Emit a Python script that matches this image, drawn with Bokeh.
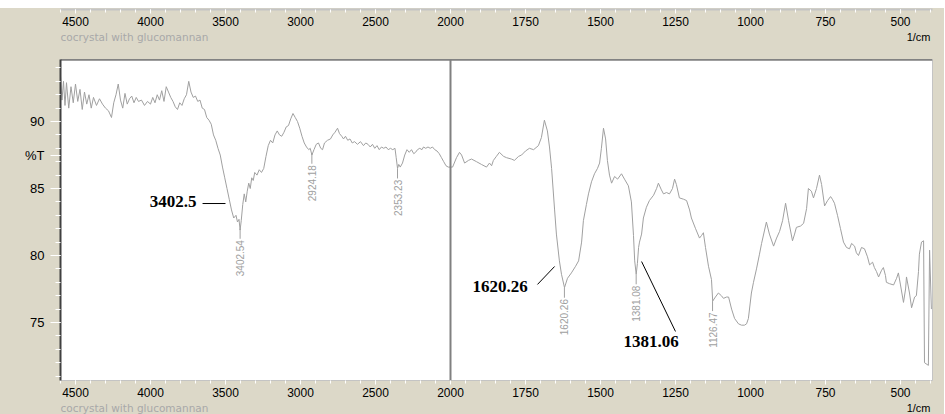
import math
from bokeh.plotting import figure
from bokeh.models import (Range1d, SingleIntervalTicker, FixedTicker, CustomJSTickFormatter,
                          PrintfTickFormatter, CustomJSTransform, ColumnDataSource, Span,
                          Label, Spacer)
from bokeh.transform import transform
from bokeh.layouts import column
from bokeh.embed import file_html
from bokeh.resources import INLINE
from bokeh.core.properties import value

# ---------------- data ----------------
WAVENUMBER = [
    4600, 4590, 4580, 4570, 4560, 4545, 4530, 4515, 4500, 4485, 4470, 4455, 4440, 4425,
    4410, 4395, 4380, 4360, 4340, 4320, 4300, 4280, 4260, 4245, 4230, 4215, 4200, 4185,
    4170, 4155, 4140, 4125, 4110, 4095, 4080, 4060, 4040, 4020, 4000, 3985, 3970, 3955,
    3940, 3925, 3910, 3895, 3880, 3865, 3850, 3835, 3820, 3805, 3790, 3775, 3760, 3745,
    3730, 3715, 3700, 3685, 3670, 3655, 3640, 3625, 3610, 3595, 3580, 3565, 3550, 3535,
    3520, 3505, 3490, 3475, 3460, 3445, 3430, 3420, 3410, 3402.5, 3395, 3385, 3375, 3365,
    3355, 3345, 3335, 3325, 3315, 3305, 3290, 3275, 3260, 3245, 3230, 3215, 3200, 3185,
    3170, 3155, 3140, 3125, 3110, 3095, 3080, 3065, 3050, 3035, 3020, 3005, 2990, 2975,
    2960, 2945, 2935, 2924, 2910, 2895, 2880, 2865, 2853, 2840, 2820, 2800, 2785, 2770,
    2753, 2740, 2725, 2713, 2700, 2685, 2670, 2655, 2640, 2620, 2600, 2580, 2565, 2550,
    2535, 2520, 2505, 2490, 2475, 2460, 2445, 2430, 2415, 2400, 2385, 2370, 2362, 2353,
    2345, 2335, 2320, 2305, 2290, 2275, 2260, 2245, 2233, 2220, 2205, 2190, 2180, 2165,
    2150, 2135, 2120, 2105, 2090, 2075, 2060, 2045, 2030, 2015, 2000,
    1993, 1980, 1970, 1963, 1953, 1940, 1930, 1913, 1897, 1880, 1870, 1863, 1857, 1847,
    1837, 1823, 1813, 1797, 1787, 1773, 1763, 1750, 1737, 1723, 1707, 1697, 1687, 1677,
    1670, 1663, 1653, 1647, 1637, 1630, 1620, 1610, 1597, 1583, 1573, 1563, 1557, 1547,
    1540, 1530, 1520, 1510, 1503, 1497, 1490, 1483, 1477, 1470, 1463, 1453, 1443, 1430,
    1420, 1407, 1397, 1390, 1386, 1381, 1377, 1373, 1370, 1363, 1357, 1347, 1337, 1323,
    1313, 1307, 1297, 1290, 1280, 1270, 1260, 1253, 1247, 1237, 1223, 1213, 1203, 1197,
    1183, 1170, 1163, 1157, 1150, 1140, 1130, 1126, 1117, 1107, 1097, 1090, 1080, 1073,
    1063, 1053, 1040, 1030, 1020, 1013, 1007, 997, 990, 980, 970, 963, 953, 947,
    937, 923, 913, 903, 893, 883, 873, 860, 853, 847, 833, 823, 813, 807,
    797, 790, 780, 770, 763, 753, 743, 733, 727, 720, 710, 700, 690, 680,
    670, 663, 653, 647, 640, 630, 620, 610, 603, 593, 587, 580, 573, 563,
    557, 550, 547, 537, 523, 513, 507, 500, 490, 483, 480, 470, 463, 453,
    447, 440, 437, 430, 423, 420, 407, 403, 397,
]
TRANSMITTANCE = [
    93.4, 91.6, 93.0, 91.2, 92.9, 91.0, 92.6, 91.4, 92.8, 91.5, 92.4, 90.9, 92.2, 91.3,
    92.0, 91.0, 91.8, 91.2, 91.7, 91.3, 91.0, 90.8, 90.3, 91.4, 92.0, 92.8, 91.6, 91.0,
    92.1, 91.3, 91.7, 91.9, 91.4, 91.8, 91.5, 91.6, 91.2, 91.5, 91.3, 91.8, 91.4, 92.0,
    91.6, 92.3, 91.5, 92.6, 92.2, 91.8, 91.5, 91.1, 90.9, 91.4, 91.2, 91.7, 92.0, 93.0,
    92.2, 91.8, 91.9, 91.5, 91.6, 91.0, 90.9, 90.3, 90.1, 89.8, 89.0, 88.6, 88.0, 87.5,
    86.6, 85.8, 85.0, 84.2, 83.4, 82.8, 83.0, 82.5, 82.7, 81.9, 82.6, 83.8, 84.6, 84.0,
    84.8, 85.4, 85.0, 85.8, 85.6, 86.2, 86.0, 86.4, 86.2, 86.5, 87.4, 88.2, 88.6, 88.4,
    89.0, 89.3, 89.0, 88.9, 89.2, 89.6, 89.7, 90.2, 90.6, 90.3, 90.0, 89.5, 88.9, 88.4,
    88.1, 87.9, 88.0, 87.5, 87.9, 88.3, 88.4, 88.0, 87.9, 88.4, 88.6, 88.7, 89.0, 89.2,
    89.5, 89.1, 88.9, 88.7, 88.9, 88.6, 88.7, 88.4, 88.5, 88.3, 88.5, 88.2, 88.4, 88.3,
    88.1, 88.3, 88.0, 88.2, 87.9, 88.1, 88.0, 88.1, 87.9, 88.0, 87.9, 88.0, 87.3, 86.5,
    86.8, 86.6, 86.9, 87.5, 87.9, 87.7, 87.9, 87.6, 87.7, 87.9, 88.0, 87.9, 88.1, 88.0,
    88.1, 88.0, 88.1, 87.9, 87.8, 87.6, 87.3, 87.0, 86.7, 86.6, 86.6,
    86.6, 87.3, 87.7, 87.5, 86.9, 87.1, 87.2, 87.0, 86.8, 86.6, 86.9, 86.7, 87.1, 87.4,
    87.7, 87.4, 87.3, 87.2, 87.1, 87.4, 87.5, 87.8, 88.0, 87.9, 88.2, 88.8, 90.1, 89.3,
    88.1, 86.5, 83.4, 81.6, 79.6, 78.6, 77.6, 78.3, 78.7, 79.2, 79.6, 81.0, 82.6, 83.8,
    84.6, 85.5, 86.1, 86.5, 86.9, 88.0, 89.5, 88.7, 87.1, 86.0, 85.4, 85.9, 85.7, 86.1,
    85.7, 85.2, 84.0, 81.5, 79.6, 78.6, 79.4, 80.6, 81.0, 81.6, 82.8, 83.6, 84.1, 84.5,
    85.0, 85.4, 84.9, 84.6, 84.7, 84.6, 85.0, 85.7, 85.3, 84.3, 84.2, 84.1, 83.4, 82.8,
    82.0, 81.3, 81.5, 81.7, 80.6, 79.2, 78.2, 76.6, 76.9, 77.2, 77.0, 76.8, 76.9, 76.9,
    76.0, 75.3, 74.9, 74.8, 74.8, 74.9, 75.3, 77.2, 78.0, 79.0, 80.1, 80.9, 81.9, 82.5,
    81.6, 80.7, 81.3, 81.8, 82.6, 83.9, 82.6, 81.1, 81.6, 82.1, 82.2, 82.4, 83.5, 85.0,
    84.8, 84.3, 85.0, 86.0, 85.3, 83.7, 84.1, 84.4, 84.2, 83.9, 83.0, 82.0, 81.0, 80.6,
    80.5, 80.9, 80.7, 80.2, 80.0, 80.6, 80.5, 79.9, 79.3, 79.5, 79.1, 78.8, 78.4, 78.9,
    79.1, 78.5, 78.0, 77.9, 77.8, 78.3, 78.7, 77.8, 76.5, 77.5, 78.4, 77.2, 76.1, 76.9,
    77.0, 78.8, 80.1, 81.0, 81.1, 72.0, 71.8, 80.4, 76.0,
]

# peak picks printed by the instrument software
PEAK_WN = [3402.54, 2924.18, 2353.23, 1620.26, 1381.08, 1126.47]
PEAK_T = [82.0, 87.6, 86.5, 77.6, 78.6, 76.6]
PEAK_LABELS = ["3402.54", "2924.18", "2353.23", "1620.26", "1381.08", "1126.47"]

# hand-written call-outs
CALLOUT_TEXT = ["3402.5", "1620.26", "1381.06"]

X_TICK_STEP = 500               # 500 per label left of 2000, 250 per label right of it
Y_TICKS = [75, 80, 85, 90]
Y_LABEL = "%T"
Y_LABEL_AT = 87.5
SUBTITLE = "cocrystal with glucomannan"
UNIT = "1/cm"

# ---------------- layout / style ----------------
BEIGE = "#dcd8c8"
CURVE = "#a0a0a0"
FONT = "Liberation Sans"
W = 944
BL, BR = 60, 12                 # left / right borders -> frame 60..932
SPLIT = 2000                    # the x-scale doubles its resolution below 2000 1/cm
X_START, X_END_WN = 4600, 393.3
Y_START, Y_END = 70.67, 94.63


def warp(w):
    return w if w >= SPLIT else 2 * w - SPLIT


warp_t = CustomJSTransform(
    args=dict(s=SPLIT),
    func="return x >= s ? x : 2 * x - s;",
    v_func="const out = new Float64Array(xs.length); for (let i = 0; i < xs.length; i++) { const x = xs[i]; out[i] = x >= s ? x : 2 * x - s; } return out;",
)
fmt = CustomJSTickFormatter(args=dict(s=SPLIT),
                            code="const w = tick >= s ? tick : (tick + s) / 2; return w.toFixed(0);")

XR_END = warp(X_END_WN)
xr = Range1d(X_START, XR_END)


def base_fig(height, y_range, **kw):
    f = figure(width=W, height=height, x_range=xr, y_range=y_range,
               output_backend="svg", toolbar_location=None,
               min_border_left=BL, min_border_right=BR, **kw)
    f.grid.visible = False
    f.outline_line_color = None
    f.background_fill_color = BEIGE
    f.border_fill_color = BEIGE
    return f


def style_xaxis(ax, line_w, standoff):
    ax.ticker = SingleIntervalTicker(interval=X_TICK_STEP, num_minor_ticks=5)
    ax.formatter = fmt
    ax.axis_line_color = "#c4c4c4"
    ax.axis_line_width = line_w
    ax.major_tick_line_color = "white"
    ax.minor_tick_line_color = "white"
    ax.major_tick_out = 4
    ax.major_tick_in = 0
    ax.minor_tick_out = 3
    ax.minor_tick_in = 0
    ax.major_label_text_font = FONT
    ax.major_label_text_font_size = "12px"
    ax.major_label_text_color = "black"
    ax.major_label_standoff = standoff


def text_row(height, top_px, mid):
    # y range equals page pixels (flipped) so that rows are easy to line up
    f = base_fig(height, Range1d(top_px + height, top_px), min_border_top=0,
                 min_border_bottom=0, x_axis_location=None, y_axis_location=None)
    f.add_layout(Label(x=X_START, y=mid, text=SUBTITLE, text_align="left",
                       text_baseline="middle", text_font="DejaVu Sans",
                       text_font_size="10.5px", text_color="#a8a8a8"))
    f.add_layout(Label(x=XR_END, y=mid, x_offset=-2, text=UNIT, text_align="right",
                       text_baseline="middle", text_font=FONT, text_font_size="11px",
                       text_color="black"))
    return f


# ---------- upper wavenumber scale (rows 8..30) and its caption row (30..43) ----------
top_axis = base_fig(22, Range1d(0, 1), min_border_top=0, min_border_bottom=21,
                    y_axis_location=None, x_axis_location="below")
style_xaxis(top_axis.xaxis[0], 2, 3)
top_text = text_row(13, 30, 36.0)

# ---------- main plot (rows 43..401, frame 59..380) ----------
p = figure(width=W, height=358, x_range=xr, y_range=Range1d(Y_START, Y_END),
           output_backend="svg", toolbar_location=None,
           min_border_left=BL, min_border_right=BR, min_border_top=16, min_border_bottom=21)
p.grid.visible = False
p.background_fill_color = "white"
p.border_fill_color = BEIGE
p.outline_line_color = "#c4c4c4"
p.outline_line_width = 1
style_xaxis(p.xaxis[0], 1, 3)

ya = p.yaxis[0]
ya.ticker = FixedTicker(ticks=Y_TICKS + [Y_LABEL_AT],
                        minor_ticks=list(range(71, 95)))
ya.formatter = PrintfTickFormatter(format="%d")
ya.major_label_overrides = {Y_LABEL_AT: Y_LABEL}
ya.axis_line_color = "#404040"
ya.axis_line_width = 2
ya.major_tick_line_color = "white"
ya.minor_tick_line_color = "white"
ya.major_tick_out = 10
ya.major_tick_in = 0
ya.minor_tick_out = 5
ya.minor_tick_in = 0
ya.major_label_text_font = FONT
ya.major_label_text_font_size = "13px"
ya.major_label_text_color = "black"
ya.major_label_standoff = 6

p.add_layout(Span(location=Y_END, dimension="width", line_color="#404040", line_width=2))
p.add_layout(Span(location=SPLIT, dimension="height", line_color="#808080", line_width=2))

src = ColumnDataSource(dict(wn=WAVENUMBER, t=TRANSMITTANCE))
p.line(x=transform("wn", warp_t), y="t", source=src, line_color=CURVE, line_width=1)

LEAD, GAP = 0.75, 0.85
peaks = ColumnDataSource(dict(
    wn=PEAK_WN, t=PEAK_T, label=PEAK_LABELS,
    t_end=[v - LEAD for v in PEAK_T], t_txt=[v - GAP for v in PEAK_T]))
p.segment(x0=transform("wn", warp_t), y0="t", x1=transform("wn", warp_t), y1="t_end",
          source=peaks, line_color=CURVE, line_width=1)
p.text(x=transform("wn", warp_t), y="t_txt", text="label", source=peaks, angle=math.pi / 2,
       text_align="right", text_baseline="middle", text_font=value(FONT),
       text_font_size="10px", text_color="#a0a0a0")

# call-out positions (annotation layout, in wavenumber / %T)
co_right = ColumnDataSource(dict(x=[3693], y=[84.0], text=[CALLOUT_TEXT[0]]))
co_left = ColumnDataSource(dict(x=[1927, 1423], y=[77.69, 73.58], text=CALLOUT_TEXT[1:]))
for s, al in ((co_right, "right"), (co_left, "left")):
    p.text(x=transform("x", warp_t), y="y", text="text", source=s, text_align=al,
           text_baseline="middle", text_font=value("Liberation Serif"),
           text_font_style="bold", text_font_size="17px", text_color="black")
leaders = ColumnDataSource(dict(x0=[3653, 1710, 1363], y0=[83.88, 77.84, 79.55],
                                x1=[3500, 1653, 1250], y1=[83.88, 79.18, 74.33]))
p.segment(x0=transform("x0", warp_t), y0="y0", x1=transform("x1", warp_t), y1="y1",
          source=leaders, line_color="black", line_width=1)

# ---------- lower caption row (401..414) ----------
bottom_text = text_row(13, 401, 407.5)

layout = column(Spacer(width=W, height=8, styles={"background-color": "white"}),
                top_axis, top_text, p, bottom_text, spacing=0,
                styles={"background-color": BEIGE})
open("out.html", "w").write(file_html(layout, INLINE))
